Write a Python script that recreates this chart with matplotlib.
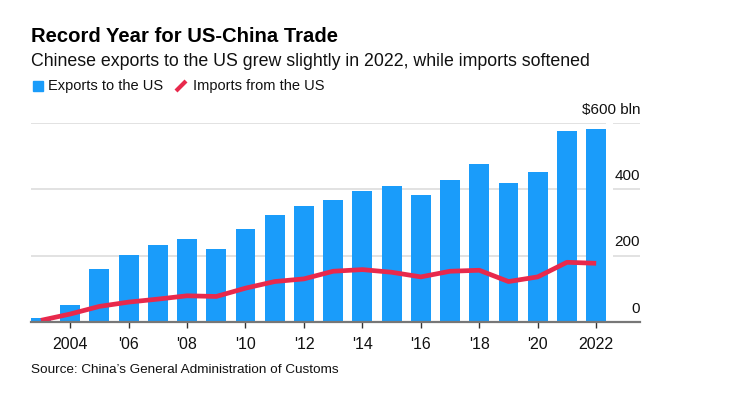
import matplotlib
matplotlib.use("Agg")
import matplotlib.pyplot as plt
from matplotlib.patches import Rectangle
from matplotlib.lines import Line2D

plt.rcParams['font.family'] = ['Liberation Sans', 'DejaVu Sans']

years = list(range(2003, 2023))
exports = [12, 52, 161, 203, 233, 251, 221, 281, 324, 351, 369, 396,
           411, 384, 429, 477, 420, 453, 577, 583]
imports = [5, 24, 47, 60, 69, 79, 77, 102, 122, 130, 153, 158,
           150, 136, 153, 156, 122, 136, 180, 177]
tick_years = list(range(2004, 2023, 2))
tick_labels = ['2004', "'06", "'08", "'10", "'12", "'14", "'16", "'18", "'20", '2022']
y_ticks = [0, 200, 400, 600]
y_labels = ['0', '200', '400', '$600 bln']

blue = '#1A9CFA'
red = '#E8294C'

W, H = 750, 404
fig = plt.figure(figsize=(W / 100, H / 100), dpi=100)


def fx(px):
    return px / W


def fy(py):
    return 1 - py / H


ax = fig.add_axes([fx(31), fy(322), fx(640) - fx(31), fy(123) - fy(322)])
x0, x1 = 2002.66, 2023.5
ax.set_xlim(x0, x1)
ax.set_ylim(0, 600)

# gridlines, with a small gap before the right-hand labels
for v in y_ticks[1:]:
    ax.hlines(v, x0, 2022.34, color='#dddddd', lw=1.2, zorder=0)
    ax.hlines(v, 2022.58, x1, color='#dddddd', lw=1.2, zorder=0)

ax.bar(years, exports, width=0.68, color=blue, zorder=2)
ax.plot(years, imports, color=red, lw=3.4, solid_capstyle='butt',
        solid_joinstyle='round', zorder=3)

for v, lab in zip(y_ticks, y_labels):
    ax.annotate(lab, xy=(1.0, v), xycoords=ax.get_yaxis_transform(),
                xytext=(0, 9.5), textcoords='offset points',
                ha='right', va='center', fontsize=11, color='#111111')

for s in ['top', 'right', 'left']:
    ax.spines[s].set_visible(False)
ax.spines['bottom'].set_color('#777777')
ax.spines['bottom'].set_linewidth(1.6)
ax.spines['bottom'].set_zorder(4)

ax.set_yticks([])
ax.set_xticks(tick_years)
ax.set_xticklabels(tick_labels, fontsize=11.5, color='#111111')
ax.tick_params(axis='x', length=4.5, width=1, color='#333333', pad=6)

# title block
fig.text(fx(31), fy(36), 'Record Year for US-China Trade', fontsize=14.6,
         fontweight='bold', va='center', ha='left', color='#000000')
fig.text(fx(31), fy(61), 'Chinese exports to the US grew slightly in 2022, while imports softened',
         fontsize=12.8, va='center', ha='left', color='#111111')

# legend
fig.add_artist(Rectangle((fx(33), fy(91)), fx(10), fy(81) - fy(91),
                         transform=fig.transFigure, color=blue))
fig.text(fx(48), fy(86), 'Exports to the US', fontsize=10.5, va='center', color='#111111')
fig.add_artist(Line2D([fx(176), fx(186)], [fy(91), fy(81)], transform=fig.transFigure,
                      color=red, lw=3, solid_capstyle='butt'))
fig.text(fx(193), fy(86), 'Imports from the US', fontsize=10.5, va='center', color='#111111')

fig.text(fx(31), fy(370), "Source: China\u2019s General Administration of Customs",
         fontsize=9.7, va='center', color='#111111')

fig.savefig('out.png', dpi=100)
